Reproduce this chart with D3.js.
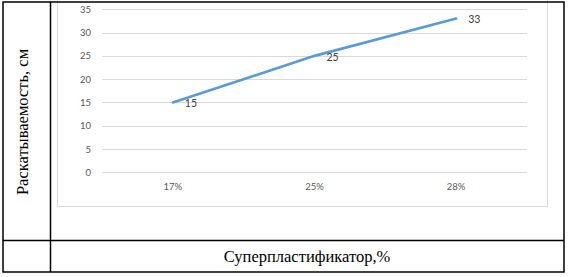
<!DOCTYPE html>
<html>
<head>
<meta charset="utf-8">
<script src="https://cdn.jsdelivr.net/npm/d3@7"></script>
<style>
  html, body { margin: 0; padding: 0; background: #fff; }
  svg { display: block; }
</style>
</head>
<body>
<div id="chart"></div>
<script>
// data
const categories = ['17%', '25%', '28%'];
const values = [15, 25, 33];
const yTicks = [0, 5, 10, 15, 20, 25, 30, 35];

const yTitle = 'Раскатываемость, см';
const xTitle = 'Суперпластификатор,%';

const W = 568, H = 277;
const svg = d3.select('#chart').append('svg')
  .attr('width', W).attr('height', H);

// chart area (gray frame, top edge hidden behind the table border)
svg.append('rect')
  .attr('x', 57.5).attr('y', -4)
  .attr('width', 490).attr('height', 210.5)
  .attr('fill', '#fff')
  .attr('stroke', '#d9d9d9').attr('stroke-width', 1);

const x = d3.scaleBand().domain(categories).range([102, 527]);
const y = d3.scaleLinear().domain([0, 35]).range([172.3, 9.3]);

// gridlines
svg.append('g')
  .selectAll('line')
  .data(yTicks)
  .join('line')
  .attr('x1', 102).attr('x2', 527)
  .attr('y1', d => Math.round(y(d)) + 0.5)
  .attr('y2', d => Math.round(y(d)) + 0.5)
  .attr('stroke', '#d9d9d9').attr('stroke-width', 1);

// y axis labels
const yAxis = svg.append('g')
  .attr('transform', 'translate(102,0)')
  .call(d3.axisLeft(y).tickValues(yTicks).tickSize(0).tickPadding(11));
yAxis.select('.domain').remove();
yAxis.selectAll('text')
  .attr('fill', '#595959')
  .style('font', '9.5px Lato, "Liberation Sans", sans-serif');

// x axis labels
const xAxis = svg.append('g')
  .attr('transform', 'translate(0,172.3)')
  .call(d3.axisBottom(x).tickSize(0).tickPadding(11));
xAxis.select('.domain').remove();
xAxis.selectAll('text')
  .attr('fill', '#595959')
  .style('font', '9.5px Lato, "Liberation Sans", sans-serif');

// series line
const line = d3.line()
  .x((d, i) => x(categories[i]) + x.bandwidth() / 2)
  .y(d => y(d));

svg.append('path')
  .datum(values)
  .attr('d', line)
  .attr('fill', 'none')
  .attr('stroke', '#5b9bd5')
  .attr('stroke-width', 2.6)
  .attr('stroke-linecap', 'round');

// data labels to the right of the points
svg.append('g')
  .selectAll('text')
  .data(values)
  .join('text')
  .attr('x', (d, i) => x(categories[i]) + x.bandwidth() / 2 + 12)
  .attr('y', d => y(d) + 1)
  .attr('dy', '0.35em')
  .attr('fill', '#404040')
  .style('font', '10.5px Lato, "Liberation Sans", sans-serif')
  .text(d => d);

// table borders
const border = svg.append('g')
  .attr('stroke', '#000').attr('stroke-width', 1.5).attr('fill', 'none');
border.append('rect').attr('x', 3).attr('y', 2).attr('width', 561).attr('height', 270);
border.append('line').attr('x1', 50.5).attr('x2', 50.5).attr('y1', 2).attr('y2', 272);
border.append('line').attr('x1', 3).attr('x2', 564).attr('y1', 240.5).attr('y2', 240.5);

// axis titles
svg.append('text')
  .attr('transform', 'translate(28,122) rotate(-90)')
  .attr('text-anchor', 'middle')
  .attr('fill', '#000')
  .style('font', '16.5px "Liberation Serif", "Times New Roman", serif')
  .text(yTitle);

svg.append('text')
  .attr('x', 307).attr('y', 262)
  .attr('text-anchor', 'middle')
  .attr('fill', '#000')
  .style('font', '16.5px "Liberation Serif", "Times New Roman", serif')
  .text(xTitle);
</script>
</body>
</html>
